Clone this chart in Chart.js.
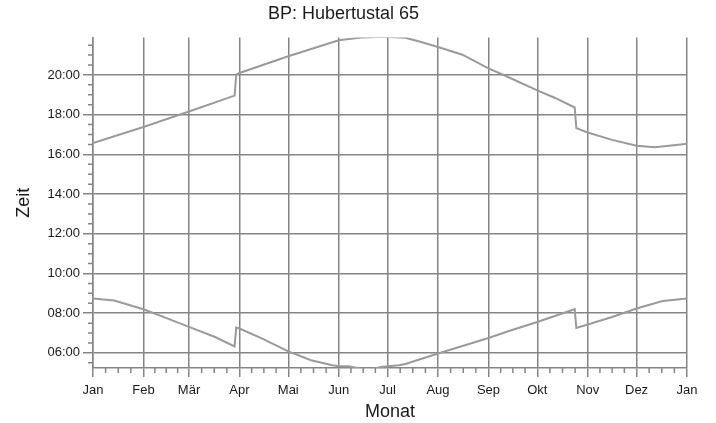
<!DOCTYPE html>
<html>
<head>
<meta charset="utf-8">
<script src="https://cdn.jsdelivr.net/npm/chart.js@4.4.1/dist/chart.umd.min.js"></script>
<style>
  html, body { margin: 0; padding: 0; background: #fff; }
  #wrap { width: 716px; height: 423px; }
</style>
</head>
<body>
<div id="wrap"><canvas id="chart"></canvas></div>
<script>
// Achse: Tage im Jahr (0 = 1. Jan), Uhrzeit in Stunden
const monthLabels = ["Jan", "Feb", "Mär", "Apr", "Mai", "Jun", "Jul", "Aug", "Sep", "Okt", "Nov", "Dez", "Jan"];
const monthStartDays = [0, 31, 59, 90, 120, 151, 181, 212, 243, 273, 304, 334, 365];
const hourTicks = [6, 8, 10, 12, 14, 16, 18, 20];

// Sonnenuntergang (obere Linie)
const sunsetDays = [0, 31, 59, 87, 88, 90, 120, 151, 165, 179, 192, 200, 212, 227, 243, 253, 273, 284, 296, 297, 304, 319, 334, 345, 354, 365];
const sunsetHours = [16.57, 17.38, 18.16, 18.96, 20.02, 20.10, 20.94, 21.75, 21.88, 21.92, 21.87, 21.70, 21.41, 21.02, 20.33, 19.97, 19.22, 18.84, 18.36, 17.32, 17.10, 16.73, 16.43, 16.36, 16.43, 16.53];

// Sonnenaufgang (untere Linie)
const sunriseDays = [0, 13, 31, 46, 59, 75, 87, 88, 90, 104, 120, 134, 147, 151, 157, 165, 172, 178, 188, 192, 212, 227, 243, 257, 273, 296, 297, 304, 319, 334, 350, 365];
const sunriseHours = [8.74, 8.64, 8.20, 7.73, 7.31, 6.80, 6.33, 7.28, 7.23, 6.72, 6.08, 5.63, 5.38, 5.33, 5.33, 5.20, 5.20, 5.30, 5.38, 5.44, 5.97, 6.35, 6.75, 7.14, 7.56, 8.20, 7.26, 7.43, 7.81, 8.24, 8.61, 8.74];

const gridColor = "#858585";
const lineColor = "#9a9a9a";
const textColor = "#1a1a1a";

Chart.defaults.font.family = "'Liberation Sans', Arial, sans-serif";

const toPoints = (days, hours) => days.map((d, i) => ({ x: d, y: hours[i] }));

// kleine Zwischenstriche an den Achsen
const minorTicks = {
  id: "minorTicks",
  afterDraw(chart) {
    const { ctx, scales: { x, y } } = chart;
    ctx.save();
    ctx.strokeStyle = gridColor;
    ctx.lineWidth = 1.5;
    ctx.beginPath();
    for (let m = 0; m < monthStartDays.length - 1; m++) {
      const s = monthStartDays[m];
      const e = monthStartDays[m + 1];
      for (let k = 1; k < 4; k++) {
        const px = x.getPixelForValue(s + (e - s) * k / 4);
        ctx.moveTo(px, y.bottom);
        ctx.lineTo(px, y.bottom + 5);
      }
    }
    for (let h = Math.ceil(y.min * 2) / 2; h <= y.max; h += 0.5) {
      if (hourTicks.includes(h)) continue;
      const py = y.getPixelForValue(h);
      ctx.moveTo(x.left - 5, py);
      ctx.lineTo(x.left, py);
    }
    ctx.stroke();
    ctx.restore();
  },
};

new Chart(document.getElementById("chart"), {
  type: "line",
  data: {
    datasets: [
      {
        label: "Sonnenuntergang",
        data: toPoints(sunsetDays, sunsetHours),
        borderColor: lineColor,
        borderWidth: 2,
        pointRadius: 0,
        tension: 0,
      },
      {
        label: "Sonnenaufgang",
        data: toPoints(sunriseDays, sunriseHours),
        borderColor: lineColor,
        borderWidth: 2,
        pointRadius: 0,
        tension: 0,
      },
    ],
  },
  options: {
    responsive: true,
    maintainAspectRatio: false,
    animation: false,
    layout: { padding: { left: 0, right: 29, top: 0, bottom: 0 } },
    plugins: {
      legend: { display: false },
      tooltip: { enabled: false },
      title: {
        display: true,
        text: "BP: Hubertustal 65",
        color: textColor,
        font: { size: 18, weight: "normal" },
        padding: { top: 3, bottom: 13 },
      },
    },
    scales: {
      x: {
        type: "linear",
        min: 0,
        max: 365,
        afterBuildTicks(scale) {
          scale.ticks = monthStartDays.map((v) => ({ value: v }));
        },
        afterFit(scale) {
          scale.height = 55;
        },
        ticks: {
          autoSkip: false,
          maxRotation: 0,
          padding: 6,
          color: textColor,
          font: { size: 13 },
          callback: (v, i) => monthLabels[i],
        },
        grid: { color: gridColor, lineWidth: 1.5, tickLength: 9 },
        border: { color: gridColor, width: 1.5 },
        title: {
          display: true,
          text: "Monat",
          color: textColor,
          font: { size: 18 },
          padding: { top: 0, bottom: 0 },
        },
      },
      y: {
        type: "linear",
        min: 5.24,
        max: 21.88,
        afterBuildTicks(scale) {
          scale.ticks = hourTicks.map((v) => ({ value: v }));
        },
        afterFit(scale) {
          scale.width = 93;
        },
        ticks: {
          padding: 3,
          color: textColor,
          font: { size: 13 },
          callback: (v) => String(v).padStart(2, "0") + ":00",
        },
        grid: { color: gridColor, lineWidth: 1.5, tickLength: 10 },
        border: { color: gridColor, width: 1.5 },
        title: {
          display: true,
          text: "Zeit",
          color: textColor,
          font: { size: 18 },
          padding: { top: 13, bottom: 0 },
        },
      },
    },
  },
  plugins: [minorTicks],
});
</script>
</body>
</html>
